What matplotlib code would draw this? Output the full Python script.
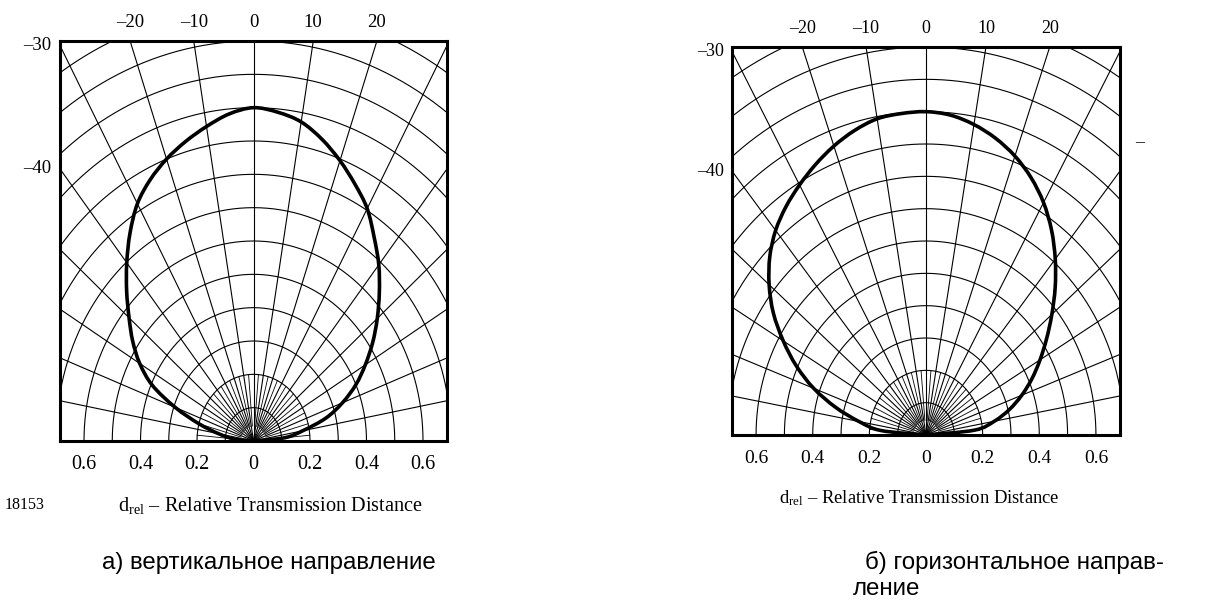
import numpy as np
import matplotlib
matplotlib.use('Agg')
from matplotlib import pyplot as plt
from matplotlib.path import Path
from matplotlib.patches import PathPatch

plt.rcParams['font.family'] = ['Liberation Serif', 'DejaVu Serif']
plt.rcParams['mathtext.fontset'] = 'custom'
plt.rcParams['mathtext.rm'] = 'Liberation Serif'
plt.rcParams['mathtext.it'] = 'Liberation Serif:italic'

# emission angle (deg) and relative transmission distance
angles = [-90, -85, -80, -75, -70, -65, -60, -55, -50, -45, -40, -35, -30, -25, -20, -15, -10, -5,
          0, 5, 10, 15, 20, 25, 30, 35, 40, 45, 50, 55, 60, 65, 70, 75, 80, 85, 90]

d_vert = [0.0, 0.068, 0.125, 0.2, 0.295, 0.395, 0.465, 0.522, 0.575, 0.635, 0.698, 0.762, 0.822, 0.865, 0.9, 0.93, 0.958, 0.985,
          1.0, 0.99, 0.972, 0.937, 0.895, 0.85, 0.805, 0.745, 0.69, 0.63, 0.572, 0.515, 0.457, 0.40, 0.335, 0.265, 0.177, 0.11, 0.0]

d_horiz = [0.0, 0.16, 0.24, 0.33, 0.422, 0.505, 0.582, 0.658, 0.723, 0.78, 0.826, 0.862, 0.893, 0.923, 0.951, 0.975, 0.993, 0.998,
           1.0, 0.993, 0.975, 0.95, 0.918, 0.878, 0.83, 0.773, 0.71, 0.645, 0.58, 0.52, 0.465, 0.413, 0.36, 0.305, 0.245, 0.172, 0.0]

top_ticks = [-20, -10, 0, 10, 20]
side_ticks = [-30, -40]
dist_ticks = [-0.6, -0.4, -0.2, 0, 0.2, 0.4, 0.6]
dist_labels = ['0.6', '0.4', '0.2', '0', '0.2', '0.4', '0.6']

XMAX = 0.685
YMAX = 1.2
W, H = 1229, 607


def fig_rect(x0, y0, x1, y1):
    return [x0 / W, 1 - y1 / H, (x1 - x0) / W, (y1 - y0) / H]


def polar_xy(ang, r):
    a = np.radians(ang)
    return np.asarray(r) * np.sin(a), np.asarray(r) * np.cos(a)


def smooth_path(x, y):
    # Catmull-Rom through the points, written as cubic Bezier segments
    p = np.column_stack([x, y])
    verts = [p[0]]
    codes = [Path.MOVETO]
    n = len(p)
    for i in range(n - 1):
        p0 = p[max(i - 1, 0)]
        p1, p2 = p[i], p[i + 1]
        p3 = p[min(i + 2, n - 1)]
        verts += [p1 + (p2 - p0) / 6, p2 - (p3 - p1) / 6, p2]
        codes += [Path.CURVE4] * 3
    return Path(verts, codes)


def draw_panel(ax, dist, fs_top, fs_bot):
    ax.set_xlim(-XMAX, XMAX)
    ax.set_ylim(0, YMAX)
    ax.set_xticks([])
    ax.set_yticks([])
    for s in ax.spines.values():
        s.set_linewidth(2.2)
        s.set_zorder(5)

    t = np.linspace(-90, 90, 361)
    for r in np.arange(0.1, 1.45, 0.1):
        x, y = polar_xy(t, r)
        ax.plot(x, y, color='black', lw=0.8)
    for a in range(-90, 91, 10):
        x, y = polar_xy([a, a], [0, 2.0])
        ax.plot(x, y, color='black', lw=0.8)
    for a in range(-85, 90, 10):
        x, y = polar_xy([a, a], [0.045, 0.2])
        ax.plot(x, y, color='black', lw=0.6)

    x, y = polar_xy(angles, dist)
    ax.add_patch(PathPatch(smooth_path(x, y), fill=False, edgecolor='black',
                           lw=2.6, joinstyle='round', zorder=4))

    for a in top_ticks:
        lab = str(a).replace('-', '\u2013')
        ax.annotate(lab, (YMAX * np.tan(np.radians(a)), YMAX), xytext=(0, 13),
                    textcoords='offset points', ha='center', va='center', fontsize=fs_top)
    for a in side_ticks:
        lab = str(a).replace('-', '\u2013')
        ax.annotate(lab, (-XMAX, XMAX / np.tan(np.radians(-a))), xytext=(-6, 0),
                    textcoords='offset points', ha='right', va='center', fontsize=fs_top)
    for v, lab in zip(dist_ticks, dist_labels):
        ax.annotate(lab, (v, 0), xytext=(0, -17), textcoords='offset points',
                    ha='center', va='center', fontsize=fs_bot)


fig = plt.figure(figsize=(W / 100, H / 100), dpi=100)

ax1 = fig.add_axes(fig_rect(60, 41, 447, 441))
draw_panel(ax1, d_vert, 13.5, 14.5)
ax2 = fig.add_axes(fig_rect(732, 47, 1120, 435))
draw_panel(ax2, d_horiz, 13, 14)

xlabel = r'd$_{\mathrm{rel}}$ ' + '\u2013 Relative Transmission Distance'
fig.text(270 / W, 1 - 505 / H, xlabel, ha='center', va='center', fontsize=14.6)
fig.text(919 / W, 1 - 498 / H, xlabel, ha='center', va='center', fontsize=13.4)
fig.text(25 / W, 1 - 505 / H, '18153', ha='center', va='center', fontsize=11.5)
fig.text(1140 / W, 1 - 143 / H, '\u2013', ha='center', va='center', fontsize=13)

sans = ['Liberation Sans', 'DejaVu Sans']
fig.text(102 / W, 1 - 563 / H, 'а) вертикальное направление', ha='left', va='center',
         fontsize=17.3, family=sans)
fig.text(865 / W, 1 - 562 / H, 'б) горизонтальное направ-', ha='left', va='center',
         fontsize=17.4, family=sans)
fig.text(853 / W, 1 - 589 / H, 'ление', ha='left', va='center',
         fontsize=17.4, family=sans)

fig.savefig('out.png', dpi=100, facecolor='white')
